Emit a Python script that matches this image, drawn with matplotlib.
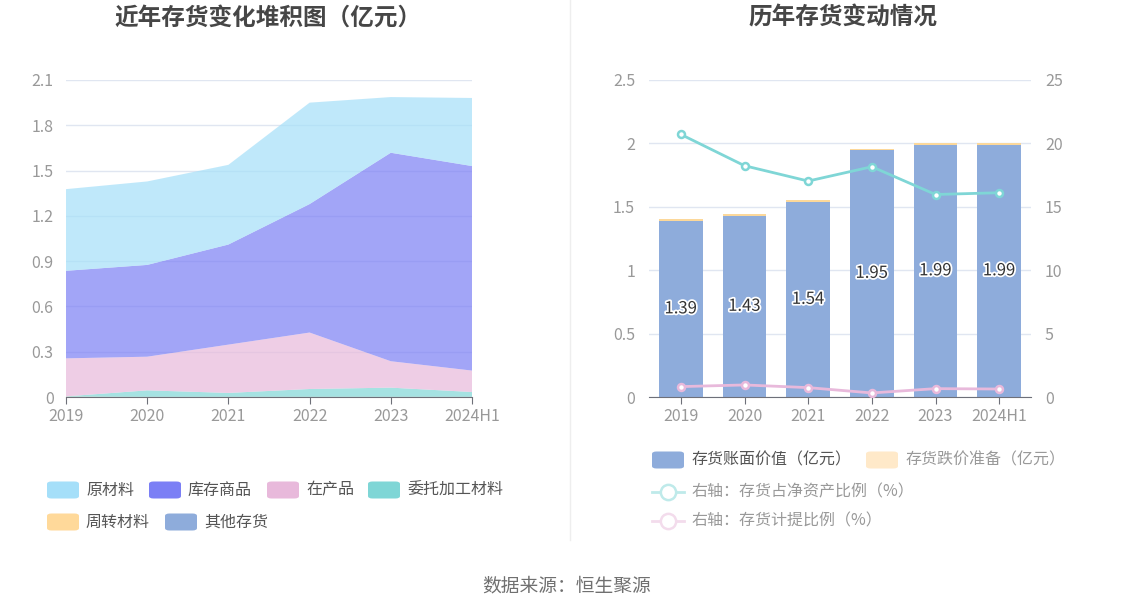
import matplotlib
matplotlib.use("Agg")
import matplotlib.pyplot as plt
import matplotlib.patheffects as pe
from matplotlib.patches import FancyBboxPatch
from matplotlib.lines import Line2D
import numpy as np

plt.rcParams['font.family'] = ['Noto Sans CJK SC', 'DejaVu Sans']

# --- 数据 ---
anos = ["2019", "2020", "2021", "2022", "2023", "2024H1"]

# 左图：存货构成（亿元）
materia_prima = [0.541, 0.553, 0.528, 0.672, 0.369, 0.451]   # 原材料
estoque_produtos = [0.580, 0.608, 0.663, 0.851, 1.381, 1.355]  # 库存商品
em_processo = [0.252, 0.223, 0.320, 0.374, 0.175, 0.142]      # 在产品
terceirizado = [0.002, 0.043, 0.026, 0.052, 0.061, 0.032]     # 委托加工材料
rotativo = [0.002, 0.001, 0.001, 0.001, 0.001, 0.001]         # 周转材料
outros = [0.0, 0.0, 0.0, 0.0, 0.0, 0.0]                       # 其他存货

# 右图
valor_contabil = [1.39, 1.43, 1.54, 1.95, 1.99, 1.99]         # 存货账面价值
provisao = [0.012, 0.014, 0.012, 0.006, 0.014, 0.013]         # 存货跌价准备
pct_patrimonio = [20.71, 18.24, 17.03, 18.16, 15.97, 16.11]   # 存货占净资产比例
pct_provisao = [0.82, 0.95, 0.74, 0.32, 0.66, 0.63]           # 存货计提比例

W, H = 1134, 612
fig = plt.figure(figsize=(W / 100, H / 100), dpi=100)

def fx(px):
    return px / W

def fy(py):
    return 1 - py / H

def ax_rect(l, t, r, b):
    return [fx(l), fy(b), fx(r) - fx(l), fy(t) - fy(b)]

GRID = "#E0E6F1"
AXIS = "#6E7079"
TICK = "#999999"
FS_TICK = 11.5
FS_LEG = 11.5

c_mp = "#a5dff9"
c_ep = "#7b7ff5"
c_pr = "#e8b9db"
c_te = "#7fd6d6"
c_ro = "#ffd99a"
c_ou = "#8eacdb"

# --- 左图 ---
ax1 = fig.add_axes(ax_rect(66, 80, 472, 397))
x = np.arange(len(anos))
ax1.stackplot(x, outros, rotativo, terceirizado, em_processo, estoque_produtos, materia_prima,
              colors=[c_ou, c_ro, c_te, c_pr, c_ep, c_mp], alpha=0.7, linewidth=0)
ax1.set_xlim(0, len(anos) - 1)
ax1.set_ylim(0, 2.1)
ax1.set_yticks(np.arange(0, 2.11, 0.3))
ax1.set_yticklabels(["0", "0.3", "0.6", "0.9", "1.2", "1.5", "1.8", "2.1"])
ax1.set_xticks(x)
ax1.set_xticklabels(anos)
ax1.grid(axis="y", color=GRID, linewidth=1)
ax1.set_axisbelow(True)
for s in ["top", "right", "left"]:
    ax1.spines[s].set_visible(False)
ax1.spines["bottom"].set_color(AXIS)
ax1.spines["bottom"].set_zorder(3)
ax1.tick_params(axis="y", length=0, pad=9, labelsize=FS_TICK, labelcolor=TICK)
ax1.tick_params(axis="x", length=5, color=AXIS, pad=3, labelsize=FS_TICK, labelcolor=TICK)

fig.text(fx(268), fy(18), "近年存货变化堆积图（亿元）", ha="center", va="center",
         fontsize=17, fontweight="bold", color="#464646")

# --- 右图 ---
ax2 = fig.add_axes(ax_rect(649, 80, 1031, 397))
ax2.bar(x, valor_contabil, width=0.69, color=c_ou, zorder=2)
ax2.bar(x, provisao, width=0.69, bottom=valor_contabil, color="#fcd89a", zorder=2)
for i, v in enumerate(valor_contabil):
    ax2.text(i, v / 2, f"{v:.2f}", ha="center", va="center", fontsize=12, color="#333333",
             path_effects=[pe.withStroke(linewidth=2.5, foreground="white")], zorder=5)
ax2.set_xlim(-0.5, len(anos) - 0.5)
ax2.set_ylim(0, 2.5)
ax2.set_yticks([0, 0.5, 1, 1.5, 2, 2.5])
ax2.set_yticklabels(["0", "0.5", "1", "1.5", "2", "2.5"])
ax2.set_xticks(x)
ax2.set_xticklabels(anos)
ax2.grid(axis="y", color=GRID, linewidth=1, zorder=0)
ax2.set_axisbelow(True)
for s in ["top", "right", "left"]:
    ax2.spines[s].set_visible(False)
ax2.spines["bottom"].set_color(AXIS)
ax2.tick_params(axis="y", length=0, pad=10, labelsize=FS_TICK, labelcolor=TICK)
ax2.tick_params(axis="x", length=5, color=AXIS, pad=3, labelsize=FS_TICK, labelcolor=TICK)

ax3 = ax2.twinx()
ax3.plot(x, pct_patrimonio, color=c_te, linewidth=2, marker="o", markersize=5,
         markerfacecolor="white", markeredgecolor=c_te, markeredgewidth=1.8, zorder=4)
ax3.plot(x, pct_provisao, color=c_pr, linewidth=2, marker="o", markersize=5,
         markerfacecolor="white", markeredgecolor=c_pr, markeredgewidth=1.8, zorder=4)
ax3.set_ylim(0, 25)
ax3.set_yticks([0, 5, 10, 15, 20, 25])
for s in ["top", "right", "left", "bottom"]:
    ax3.spines[s].set_visible(False)
ax3.tick_params(axis="y", length=0, pad=10, labelsize=FS_TICK, labelcolor=TICK)

fig.text(fx(843), fy(18), "历年存货变动情况", ha="center", va="center",
         fontsize=17, fontweight="bold", color="#464646")

# --- 分隔线 ---
fig.add_artist(Line2D([fx(570), fx(570)], [fy(0), fy(540)], color="#eeeeee", linewidth=1))

# --- 图例 ---
def swatch(xp, yc, color, label, tcolor="#555555"):
    w, h = 32, 17
    fig.add_artist(FancyBboxPatch((fx(xp), fy(yc + h / 2)), fx(w), h / H,
                                  boxstyle="round,pad=0,rounding_size=0.004",
                                  facecolor=color, edgecolor="none", transform=fig.transFigure))
    fig.text(fx(xp + w + 7), fy(yc), label, ha="left", va="center", fontsize=FS_LEG, color=tcolor)

def line_swatch(xp, yc, color, label, tcolor="#999999"):
    fig.add_artist(Line2D([fx(xp), fx(xp + 32)], [fy(yc), fy(yc)], color=color, linewidth=2))
    fig.add_artist(Line2D([fx(xp + 16)], [fy(yc)], marker="o", markersize=11,
                          markerfacecolor="white", markeredgecolor=color, markeredgewidth=1.8))
    fig.text(fx(xp + 39), fy(yc), label, ha="left", va="center", fontsize=FS_LEG, color=tcolor)

swatch(47, 490, c_mp, "原材料")
swatch(149, 490, c_ep, "库存商品")
swatch(267, 490, c_pr, "在产品")
swatch(368, 490, c_te, "委托加工材料")
swatch(47, 522, c_ro, "周转材料")
swatch(165, 522, c_ou, "其他存货")

swatch(652, 460, c_ou, "存货账面价值（亿元）")
swatch(866, 460, "#ffe9c9", "存货跌价准备（亿元）", "#999999")
line_swatch(652, 492, "#bfeaea", "右轴：存货占净资产比例（%）")
line_swatch(652, 521, "#f3dcec", "右轴：存货计提比例（%）")

fig.text(fx(567), fy(586), "数据来源：恒生聚源", ha="center", va="center", fontsize=13.5, color="#707070")

fig.savefig("out.png", dpi=100)
